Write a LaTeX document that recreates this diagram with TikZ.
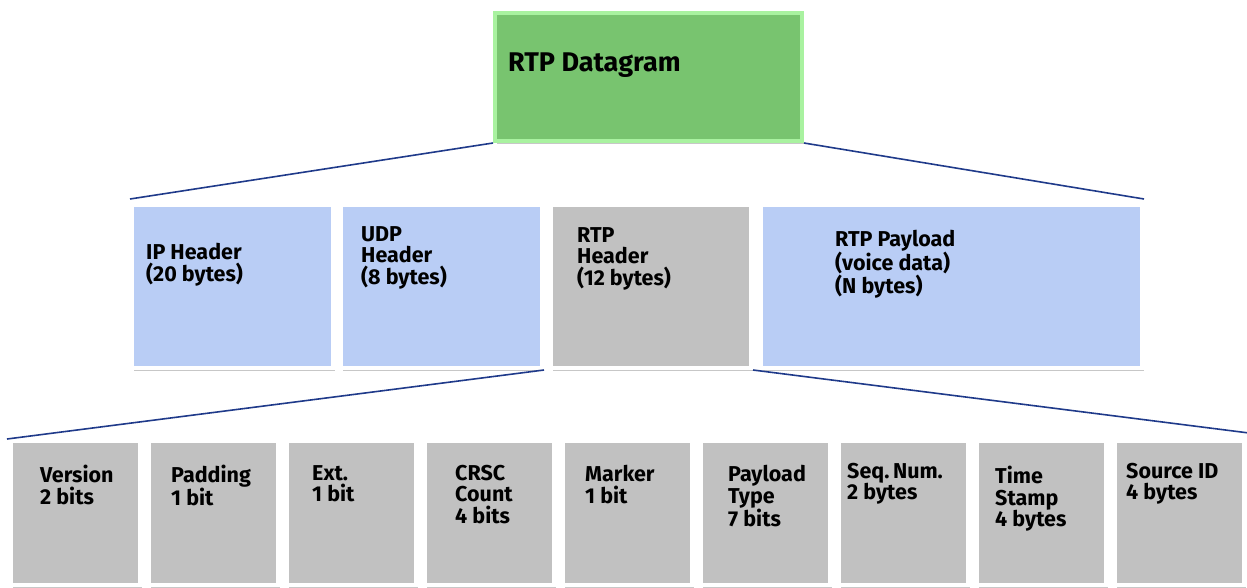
\documentclass[tikz,border=0pt]{standalone}
\usepackage{fontspec}
\setmainfont{Fira Sans}
\usetikzlibrary{positioning,shadows}
\definecolor{RTPGreen}{HTML}{78C46F}
\definecolor{RTPLightGreen}{HTML}{A9F2A0}
\definecolor{RTPBlue}{HTML}{B9CDF5}
\definecolor{RTPGray}{HTML}{C1C1C1}
\definecolor{RTPNavy}{HTML}{1F3A8A}
\begin{document}
\begin{tikzpicture}[x=1pt,y=-1pt,
        box/.style={rectangle,draw=white,line width=4pt,inner sep=0pt,drop shadow={shadow xshift=2pt,shadow yshift=-3pt,opacity=0.22,fill=black}},
        top/.style={box,draw=RTPLightGreen,fill=RTPGreen,minimum width=307pt,minimum height=128pt},
        mid/.style={box,fill=RTPBlue,minimum height=163pt},
        fld/.style={box,fill=RTPGray,minimum width=129pt,minimum height=144pt},
        lbl/.style={anchor=north west,align=left,inner sep=0pt,font=\bfseries\fontsize{21.5pt}{21.5pt}\selectfont},
        flbl/.style={lbl,font=\bfseries\fontsize{21.5pt}{21.5pt}\selectfont},
        ln/.style={line width=1.6pt,color=RTPNavy}]
        \useasboundingbox (0,0) rectangle (1247,587);
        % datagram
        \node[top] (dg) at (648.5,77) {};
        \node[lbl,font=\bfseries\fontsize{27pt}{28pt}\selectfont] (dgt) at ([shift={(15,42)}]dg.north west) {RTP Datagram};
        % packet parts
        \node[mid,minimum width=201pt] (ip) at (232.5,286.5) {}; \node[mid,minimum width=201pt] (udp) at (441.5,286.5) {};
        \node[mid,fill=RTPGray,minimum width=200pt] (rtp) at (651,286.5) {}; \node[mid,minimum width=381pt] (pay) at (951.5,286.5) {};
        \node[lbl] (ipt) at ([shift={(16,40)}]ip.north west) {IP Header\\(20 bytes)};
        \node[lbl] (udpt) at ([shift={(22,23)}]udp.north west) {UDP\\Header\\(8 bytes)};
        \node[lbl] (rtpt) at ([shift={(28,24)}]rtp.north west) {RTP\\Header\\(12 bytes)};
        \node[lbl] (payt) at ([shift={(76,27)}]pay.north west) {RTP Payload\\(voice data)\\(N bytes)};
        % header fields
        \node[fld] (ver) at (75.5,513) {}; \node[fld] (pad) at (213.5,513) {}; \node[fld] (ext) at (351.5,513) {};
        \node[fld] (csrc) at (489.5,513) {}; \node[fld] (mrk) at (627.5,513) {}; \node[fld] (pt) at (765.5,513) {};
        \node[fld] (seq) at (903.5,513) {}; \node[fld] (ts) at (1041.5,513) {}; \node[fld] (src) at (1179.5,513) {};
        \node[flbl] (vert) at ([shift={(31,26)}]ver.north west) {Version\\2 bits};
        \node[flbl] (padt) at ([shift={(24,26)}]pad.north west) {Padding\\1 bit};
        \node[flbl] (extt) at ([shift={(27,26)}]ext.north west) {Ext.\\1 bit};
        \node[flbl] (csrct) at ([shift={(32,26)}]csrc.north west) {CRSC\\Count\\4 bits};
        \node[flbl] (mrkt) at ([shift={(24,26)}]mrk.north west) {Marker\\1 bit};
        \node[flbl] (ptt) at ([shift={(29,26)}]pt.north west) {Payload\\Type\\7 bits};
        \node[flbl] (seqt) at ([shift={(10,24)}]seq.north west) {Seq.\,Num.\\2 bytes};
        \node[flbl] (tst) at ([shift={(20,27)}]ts.north west) {Time\\Stamp\\4 bytes};
        \node[flbl] (srct) at ([shift={(13,24)}]src.north west) {Source ID\\4 bytes};
        % fan-out lines
        \draw[ln] (dg.south west)--([yshift=4pt]ip.north west); \draw[ln] (dg.south east)--([yshift=4pt]pay.north east);
        \draw[ln] (udp.south east)--([xshift=-2pt]ver.north west); \draw[ln] (rtp.south east)--([xshift=3pt,yshift=6pt]src.north east);
      \end{tikzpicture}
\end{document}
